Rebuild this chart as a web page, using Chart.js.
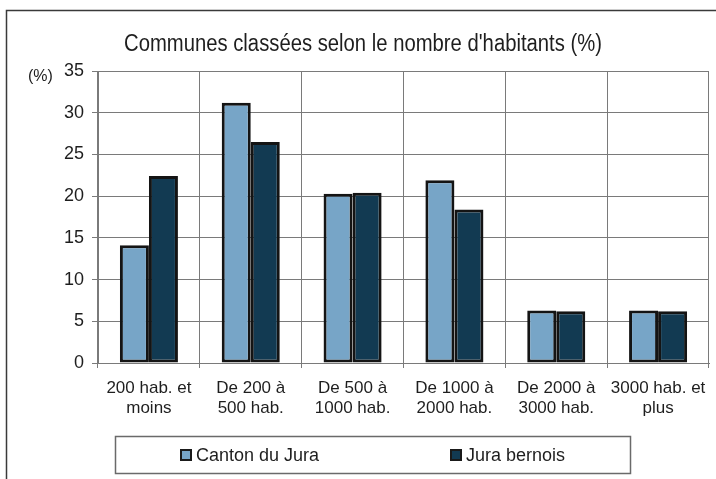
<!DOCTYPE html>
<html>
<head>
<meta charset="utf-8">
<script src="https://cdn.jsdelivr.net/npm/chart.js@4.4.0/dist/chart.umd.min.js"></script>
<style>
  html, body { margin: 0; padding: 0; background: #fff; overflow: hidden; }
</style>
</head>
<body>
<canvas id="chart" width="716" height="479"></canvas>
<script>
const title = "Communes classées selon le nombre d'habitants (%)"
const unitLabel = '(%)'
const categories = [
  ['200 hab. et', 'moins'],
  ['De 200 à', '500 hab.'],
  ['De 500 à', '1000 hab.'],
  ['De 1000 à', '2000 hab.'],
  ['De 2000 à', '3000 hab.'],
  ['3000 hab. et', 'plus'],
]
const seriesNames = ['Canton du Jura', 'Jura bernois']
const cantonJura = [14.1, 31.2, 20.3, 21.9, 6.3, 6.3]
const juraBernois = [22.4, 26.5, 20.4, 18.4, 6.2, 6.2]

const gridGrey = '#7a7a7a'
const textColor = '#1e1e1e'

// frame, title, unit label and boxed legend
const decor = {
  id: 'decor',
  beforeDraw(chart) {
    const c = chart.ctx
    c.save()
    c.fillStyle = '#fff'
    c.fillRect(0, 0, chart.width, chart.height)
    c.strokeStyle = '#3a3a3a'
    c.lineWidth = 1.5
    c.strokeRect(6.5, 10.5, chart.width + 20, chart.height + 20)
    c.restore()
  },
  afterDraw(chart) {
    const c = chart.ctx
    const y = chart.scales.y
    c.save()
    c.fillStyle = textColor
    c.textAlign = 'center'
    c.textBaseline = 'middle'
    // the original title is set in a narrow face: squeeze it to the same width
    c.font = '23px "Liberation Sans", Arial, sans-serif'
    const w = c.measureText(title).width
    c.save()
    c.translate(363, 45)
    c.scale(478 / w, 1)
    c.fillText(title, 0, 0)
    c.restore()

    c.font = '16px "Liberation Sans", Arial, sans-serif'
    c.textAlign = 'left'
    c.fillText(unitLabel, 28, y.getPixelForValue(35) + 6)

    // legend box
    c.strokeStyle = '#6a6a6a'
    c.lineWidth = 1.5
    c.strokeRect(115.5, 436.5, 515, 37)
    const xs = [180, 450]
    c.font = '18px "Liberation Sans", Arial, sans-serif'
    chart.data.datasets.forEach((ds, i) => {
      c.fillStyle = ds.backgroundColor
      c.fillRect(xs[i], 449, 12, 12)
      c.strokeStyle = '#1a1a1a'
      c.lineWidth = 2
      c.strokeRect(xs[i] + 1, 450, 10, 10)
      c.fillStyle = textColor
      c.fillText(ds.label, xs[i] + 16, 456)
    })
    c.restore()
  }
}

new Chart(document.getElementById('chart'), {
  type: 'bar',
  data: {
    labels: categories,
    datasets: [
      {
        label: seriesNames[0],
        data: cantonJura,
        backgroundColor: '#77a5c7',
      },
      {
        label: seriesNames[1],
        data: juraBernois,
        backgroundColor: '#123a52',
      },
    ].map(ds => ({
      ...ds,
      borderColor: '#141414',
      borderWidth: 3,
      borderSkipped: false,
      categoryPercentage: 0.57,
      barPercentage: 1,
    })),
  },
  options: {
    responsive: false,
    animation: false,
    layout: {
      padding: { top: 71, right: 7, bottom: 0, left: 0 },
    },
    plugins: {
      legend: { display: false },
      title: { display: false },
      tooltip: { enabled: false },
    },
    scales: {
      x: {
        afterFit: (s) => { s.height = 116 },
        grid: { color: gridGrey, tickLength: 5, offset: true },
        border: { color: gridGrey },
        ticks: {
          color: textColor,
          padding: 10,
          maxRotation: 0,
          autoSkip: false,
          font: { family: '"Liberation Sans", Arial, sans-serif', size: 17, lineHeight: 1.18 },
        },
      },
      y: {
        min: 0,
        max: 35,
        afterFit: (s) => { s.width = 98 },
        grid: { color: gridGrey, tickLength: 6 },
        border: { color: gridGrey },
        ticks: {
          stepSize: 5,
          color: textColor,
          padding: 8,
          font: { family: '"Liberation Sans", Arial, sans-serif', size: 18 },
        },
      },
    },
  },
  plugins: [decor],
})
</script>
</body>
</html>
